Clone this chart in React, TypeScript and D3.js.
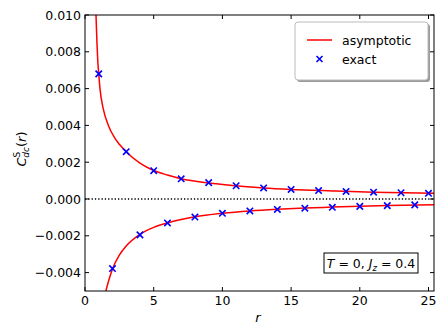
import * as d3 from 'd3';

// asymptotic curves (r, value)
const asymPosR = [0.8, 0.87, 0.93, 1.0, 1.09, 1.33, 1.7, 2.18, 3, 4, 5, 6, 7, 9, 11, 13, 15, 18, 21, 25.4];
const asymPosV = [0.0100, 0.0085, 0.0075, 0.0068, 0.0060, 0.0049, 0.0040, 0.0033, 0.00257, 0.00195, 0.00155, 0.0013, 0.0011, 0.00087, 0.00072, 0.0006, 0.00052, 0.00044, 0.00037, 0.00031];
const asymNegR = [1.52, 1.7, 2, 2.5, 3, 4, 5, 6, 8, 10, 12, 14, 16, 18, 20, 22, 25.4];
const asymNegV = [-0.0050, -0.0045, -0.0038, -0.00305, -0.00255, -0.00192, -0.00154, -0.0013, -0.00097, -0.00078, -0.00065, -0.00056, -0.00049, -0.00044, -0.00039, -0.00035, -0.00031];

// exact values at integer r
const exactR = [1, 2, 3, 4, 5, 6, 7, 8, 9, 10, 11, 12, 13, 14, 15, 16, 17, 18, 19, 20, 21, 22, 23, 24, 25];
const exactV = [0.0068, -0.00378, 0.00257, -0.00195, 0.00154, -0.0013, 0.0011, -0.00098, 0.00089, -0.00078, 0.00072, -0.00065, 0.0006, -0.00057, 0.00052, -0.0005, 0.00046, -0.00045, 0.00041, -0.0004, 0.00037, -0.00036, 0.00034, -0.00032, 0.00031];

const xTicks = [0, 5, 10, 15, 20, 25];
const yTicks = [-0.004, -0.002, 0, 0.002, 0.004, 0.006, 0.008, 0.01];

const W = 447;
const H = 334;
const L = 85, R = 434, T = 15, B = 291;
const font = 'DejaVu Sans';

export default function App() {
  const x = d3.scaleLinear().domain([0, 25.4]).range([L, R]);
  const y = d3.scaleLinear().domain([-0.005, 0.01]).range([B, T]);
  const line = d3.line<number>().curve(d3.curveMonotoneX);
  const posPath = line(asymPosR.map((r, i) => [x(r), y(asymPosV[i])]) as any);
  const negPath = line(asymNegR.map((r, i) => [x(r), y(asymNegV[i])]) as any);
  const fmt = d3.format('.3f');
  const tk = 4;

  const cross = (cx: number, cy: number, s: number, key: any) => (
    <path
      key={key}
      d={`M${cx - s},${cy - s}L${cx + s},${cy + s}M${cx - s},${cy + s}L${cx + s},${cy - s}`}
      stroke="#0000ff"
      strokeWidth={1.6}
      fill="none"
    />
  );

  return (
    <svg width={W} height={H} style={{ position: 'absolute', left: 0, top: 0, background: '#fff' }} fontFamily={font}>
      <defs>
        <clipPath id="plot">
          <rect x={L} y={T} width={R - L} height={B - T} />
        </clipPath>
      </defs>
      <rect x={0} y={0} width={W} height={H} fill="#fff" />

      <line x1={L} x2={R} y1={y(0)} y2={y(0)} stroke="#000" strokeWidth={1.3} strokeDasharray="1.3,2" />

      <g clipPath="url(#plot)">
        <path d={posPath!} stroke="#ff0000" strokeWidth={1.5} fill="none" />
        <path d={negPath!} stroke="#ff0000" strokeWidth={1.5} fill="none" />
        {exactR.map((r, i) => cross(x(r), y(exactV[i]), 3.2, i))}
      </g>

      {/* ticks */}
      {xTicks.map((t) => (
        <g key={'x' + t}>
          <line x1={x(t)} x2={x(t)} y1={B} y2={B - tk} stroke="#000" />
          <line x1={x(t)} x2={x(t)} y1={T} y2={T + tk} stroke="#000" />
          <text x={x(t)} y={305} fontSize={12.5} textAnchor="middle">{t}</text>
        </g>
      ))}
      {yTicks.map((t) => (
        <g key={'y' + t}>
          <line x1={L} x2={L + tk} y1={y(t)} y2={y(t)} stroke="#000" />
          <line x1={R} x2={R - tk} y1={y(t)} y2={y(t)} stroke="#000" />
          <text x={81} y={y(t) + 4.5} fontSize={12.5} textAnchor="end">{fmt(t)}</text>
        </g>
      ))}

      <rect x={L} y={T} width={R - L} height={B - T} fill="none" stroke="#000" strokeWidth={1} />

      {/* axis labels */}
      <text x={258} y={322} fontSize={13} fontStyle="italic" textAnchor="middle">r</text>
      <text transform="translate(26,149) rotate(-90)" fontSize={13} textAnchor="middle" fontStyle="italic">
        C<tspan fontSize={9} dy={-6} fontStyle="normal">S</tspan>
        <tspan fontSize={9} dx={-6} dy={9}>dc</tspan>
        <tspan dy={-3} fontStyle="normal">(</tspan>r<tspan fontStyle="normal">)</tspan>
      </text>

      {/* legend */}
      <rect x={297} y={24} width={133} height={58} rx={3} fill="#555" opacity={0.6} />
      <rect x={295} y={22} width={133} height={58} rx={3} fill="#fff" stroke="#bbb" strokeWidth={1} />
      <line x1={307} x2={332} y1={40} y2={40} stroke="#ff0000" strokeWidth={1.5} />
      <text x={342} y={44.5} fontSize={12.5}>asymptotic</text>
      {cross(319.5, 59, 3, 'leg')}
      <text x={342} y={63.5} fontSize={12.5}>exact</text>

      {/* parameter box */}
      <rect x={324} y={253} width={94} height={20} fill="#fff" stroke="#000" strokeWidth={1} />
      <text x={371} y={267.5} fontSize={12.5} textAnchor="middle">
        <tspan fontStyle="italic">T</tspan> = 0, <tspan fontStyle="italic">J</tspan>
        <tspan fontStyle="italic" fontSize={8.5} dy={3}>z</tspan>
        <tspan dy={-3}> = 0.4</tspan>
      </text>
    </svg>
  );
}
